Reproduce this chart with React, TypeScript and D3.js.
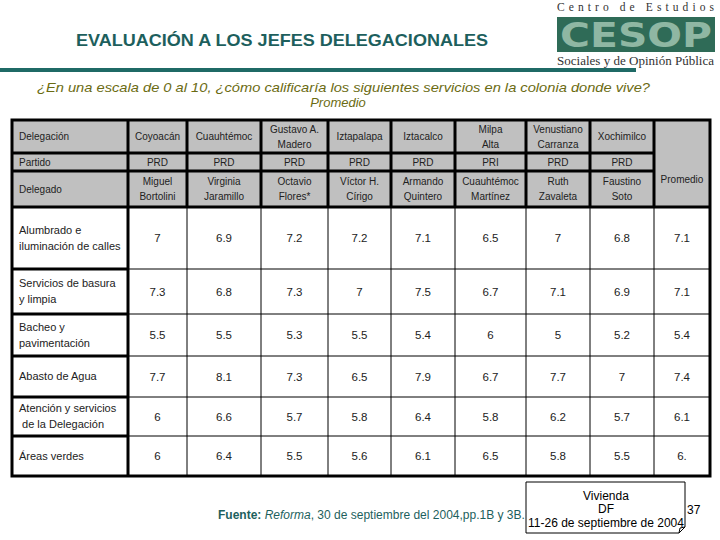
import React from 'react';
import * as d3 from 'd3';

// table contents
const delegaciones = ['Coyoacán', 'Cuauhtémoc', 'Gustavo A.\nMadero', 'Iztapalapa', 'Iztacalco', 'Milpa\nAlta', 'Venustiano\nCarranza', 'Xochimilco'];
const partidos = ['PRD', 'PRD', 'PRD', 'PRD', 'PRD', 'PRI', 'PRD', 'PRD'];
const delegados = ['Miguel\nBortolini', 'Virginia\nJaramillo', 'Octavio\nFlores*', 'Víctor H.\nCírigo', 'Armando\nQuintero', 'Cuauhtémoc\nMartínez', 'Ruth\nZavaleta', 'Faustino\nSoto'];
const servicios = ['Alumbrado e\niluminación de calles', 'Servicios de basura\ny limpia', 'Bacheo y\npavimentación', 'Abasto de Agua', 'Atención y servicios\n de la Delegación', 'Áreas verdes'];

// one array per service: the 8 delegaciones then the promedio
const alumbrado = ['7', '6.9', '7.2', '7.2', '7.1', '6.5', '7', '6.8', '7.1'];
const basura = ['7.3', '6.8', '7.3', '7', '7.5', '6.7', '7.1', '6.9', '7.1'];
const bacheo = ['5.5', '5.5', '5.3', '5.5', '5.4', '6', '5', '5.2', '5.4'];
const agua = ['7.7', '8.1', '7.3', '6.5', '7.9', '6.7', '7.7', '7', '7.4'];
const atencion = ['6', '6.6', '5.7', '5.8', '6.4', '5.8', '6.2', '5.7', '6.1'];
const verdes = ['6', '6.4', '5.5', '5.6', '6.1', '6.5', '5.8', '5.5', '6.'];
const valores = [alumbrado, basura, bacheo, agua, atencion, verdes];

// layout
const colEdges = [12, 128, 187, 261, 328, 391, 455, 526, 590, 654, 710];
const headEdges = [120, 153, 171, 207];
const rowEdges = [207, 269, 314, 356, 397, 436, 476];

const TEAL = '#1d5f5d';
const FONT = '"Liberation Sans", Arial, sans-serif';
const SERIF = '"Liberation Serif", "DejaVu Serif", serif';

const colKeys = [...delegaciones, 'Promedio'];
const colX = d3.scaleOrdinal<string, number>()
  .domain(colKeys)
  .range(d3.pairs(colEdges.slice(1)).map(([a, b]) => (a + b) / 2));

function Lines({ x, y, text, size, anchor = 'middle', gap = 15, fill = '#222' }: any) {
  const parts = text.split('\n');
  const y0 = y - ((parts.length - 1) * gap) / 2;
  return (
    <text x={x} textAnchor={anchor} fontSize={size} fill={fill} fontFamily={FONT}>
      {parts.map((p: string, i: number) => (
        <tspan key={i} x={x} y={y0 + i * gap} dy="0.35em" style={{ whiteSpace: 'pre' }}>{p}</tspan>
      ))}
    </text>
  );
}

export default function App() {
  const mid = (a: number[], i: number) => (a[i] + a[i + 1]) / 2;
  const left = colEdges[0];
  const right = colEdges[colEdges.length - 1];
  const labelRight = colEdges[1];
  const promLeft = colEdges[colEdges.length - 2];
  const top = headEdges[0];
  const headBottom = headEdges[3];
  const bottom = rowEdges[rowEdges.length - 1];

  return (
    <svg width={720} height={540} style={{ position: 'absolute', left: 0, top: 0, background: '#fff' }}>
      {/* logo */}
      <text x={557} y={11} fontFamily={SERIF} fontSize={11.5} fill="#333" textLength={157} lengthAdjust="spacing">Centro de Estudios</text>
      <rect x={557} y={17} width={158} height={35} fill="#2f6b57" />
      <text x={560} y={47} fontFamily={'"DejaVu Sans", sans-serif'} fontWeight="bold" fontSize={33} fill="#8fb7a3" textLength={152} lengthAdjust="spacingAndGlyphs">CESOP</text>
      <text x={557} y={65} fontFamily={SERIF} fontSize={11.5} fill="#333" textLength={157} lengthAdjust="spacingAndGlyphs">Sociales y de Opinión Pública</text>

      {/* title */}
      <text x={76} y={46} fontFamily={FONT} fontWeight="bold" fontSize={16.5} fill={TEAL} textLength={412} lengthAdjust="spacingAndGlyphs">EVALUACIÓN A LOS JEFES DELEGACIONALES</text>
      <rect x={0} y={68} width={636} height={4} fill="#1f6a66" />
      <text x={37} y={92} fontFamily={FONT} fontStyle="italic" fontSize={13} fill="#6b6b12" textLength={613} lengthAdjust="spacingAndGlyphs">¿En una escala de 0 al 10, ¿cómo calificaría los siguientes servicios en la colonia donde vive?</text>
      <text x={338} y={107} textAnchor="middle" fontFamily={FONT} fontStyle="italic" fontSize={13} fill="#6b6b12">Promedio</text>

      {/* header background */}
      <rect x={left} y={top} width={right - left} height={headBottom - top} fill="#c0c0c0" />
      <rect x={left} y={headBottom} width={right - left} height={bottom - headBottom} fill="#fff" />

      {/* header text */}
      <Lines x={19} y={mid(headEdges, 0)} text="Delegación" size={10} anchor="start" />
      <Lines x={19} y={mid(headEdges, 1)} text="Partido" size={10} anchor="start" />
      <Lines x={19} y={mid(headEdges, 2)} text="Delegado" size={10} anchor="start" />
      {delegaciones.map((d, i) => (
        <g key={d}>
          <Lines x={colX(d)} y={mid(headEdges, 0)} text={d} size={10} />
          <Lines x={colX(d)} y={mid(headEdges, 1)} text={partidos[i]} size={10} />
          <Lines x={colX(d)} y={mid(headEdges, 2)} text={delegados[i]} size={10} />
        </g>
      ))}
      <Lines x={colX('Promedio')} y={(headEdges[1] + headEdges[3]) / 2 - 1} text="Promedio" size={10} />

      {/* data */}
      {servicios.map((s, r) => (
        <g key={s}>
          <Lines x={19} y={mid(rowEdges, r)} text={s} size={11} anchor="start" gap={16} />
          {valores[r].map((v, c) => (
            <Lines key={c} x={colX(colKeys[c])} y={mid(rowEdges, r)} text={v} size={11.5} />
          ))}
        </g>
      ))}

      {/* thin grid in data area */}
      {colEdges.slice(2, -1).map((x) => (
        <line key={'v' + x} x1={x} x2={x} y1={headBottom} y2={bottom} stroke="#000" strokeWidth={1} />
      ))}
      {rowEdges.slice(1, -1).map((y) => (
        <line key={'h' + y} x1={labelRight} x2={right} y1={y} y2={y} stroke="#000" strokeWidth={1} />
      ))}

      {/* thick lines: header cells and label column */}
      {colEdges.slice(1, -1).map((x) => (
        <line key={'hv' + x} x1={x} x2={x} y1={top} y2={headBottom} stroke="#000" strokeWidth={3} />
      ))}
      {headEdges.slice(1, -1).map((y) => (
        <line key={'hh' + y} x1={left} x2={promLeft} y1={y} y2={y} stroke="#000" strokeWidth={3} />
      ))}
      <line x1={left} x2={right} y1={headBottom} y2={headBottom} stroke="#000" strokeWidth={3} />
      <line x1={labelRight} x2={labelRight} y1={headBottom} y2={bottom} stroke="#000" strokeWidth={3} />
      {rowEdges.slice(1, -1).map((y) => (
        <line key={'lh' + y} x1={left} x2={labelRight} y1={y} y2={y} stroke="#000" strokeWidth={3} />
      ))}
      <rect x={left} y={top} width={right - left} height={bottom - top} fill="none" stroke="#000" strokeWidth={3} />

      {/* source */}
      <text x={218} y={519} fontFamily={FONT} fontSize={12} fill={TEAL}>
        <tspan fontWeight="bold">Fuente:</tspan>
        <tspan fontStyle="italic"> Reforma</tspan>
        <tspan>, 30 de septiembre del 2004,pp.1B  y 3B.</tspan>
      </text>

      {/* note box with folded corner */}
      <path d="M526,482 H685 V527 L679,533 H526 Z" fill="#fff" stroke="#000" strokeWidth={1} />
      <path d="M685,527 L680,528 L679,533" fill="none" stroke="#000" strokeWidth={1} />
      <Lines x={606} y={509} text={'Vivienda\nDF\n11-26 de septiembre de 2004'} size={12} gap={13.5} fill="#000" />
      <text x={687} y={514} fontFamily={FONT} fontSize={12} fill="#000">37</text>
    </svg>
  );
}
